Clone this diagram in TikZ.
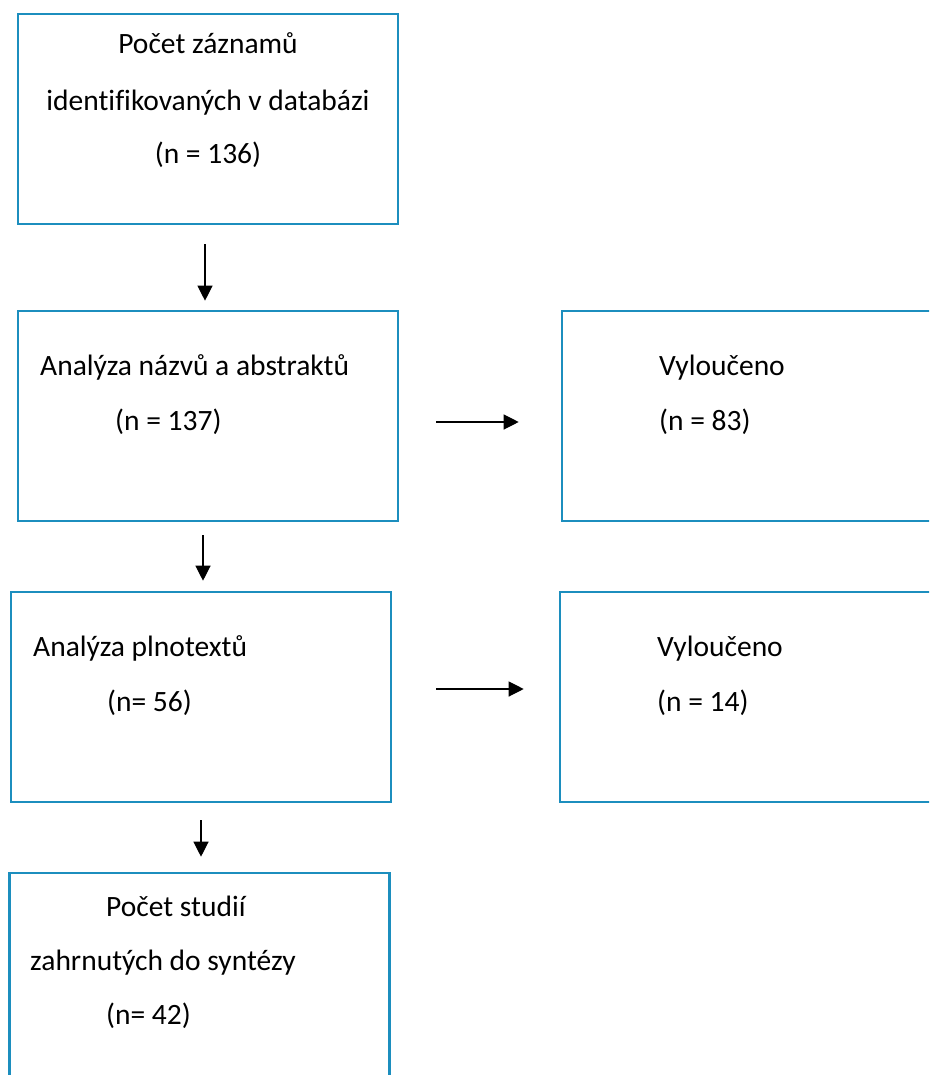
\documentclass[tikz,border=0pt]{standalone}
\usepackage{fontspec}
\setmainfont[Ligatures=NoCommon]{Carlito}
\usepackage{xcolor}
\usetikzlibrary{arrows.meta, positioning}
\definecolor{boxblue}{RGB}{28,142,190}

\begin{document}
\begin{tikzpicture}[
    x=1pt, y=-1pt,
    box/.style={rectangle, draw=boxblue, line width=2.6pt, minimum width=380pt,
                minimum height=210pt, inner sep=0pt},
    txt/.style={anchor=base west, inner sep=0pt, font=\fontsize{29.5}{34}\selectfont},
    ctxt/.style={anchor=base, inner sep=0pt, font=\fontsize{29.5}{34}\selectfont},
    flow/.style={-{Triangle[length=15pt, width=15pt]}, line width=1.2pt}
  ]
    \clip (0,0) rectangle (929,1075);
    \fill[white] (0,0) rectangle (929,1075);

    % boxes
    \node[box] (rec)  at (208,119)  {};
    \node[box] (scr)  at (208,416)  {};
    \node[box] (exa)  at (752,416)  {};
    \node[box] (full) at (201,697)  {};
    \node[box] (exb)  at (750,697)  {};
    \node[box] (inc)  at (199.5,978) {};

    % texts
    \node[ctxt] (rec1) at (208,54)  {Počet záznamů};
    \node[ctxt] (rec2) at (208,111) {identifikovaných v databázi};
    \node[ctxt] (rec3) at (208,164) {(n = 136)};
    \node[txt] (scr1) at (40,375)  {Analýza názvů a abstraktů};
    \node[txt] (scr2) at (115,430) {(n = 137)};
    \node[txt] (exa1) at (659,375) {Vyloučeno};
    \node[txt] (exa2) at (659,430) {(n = 83)};
    \node[txt] (full1) at (33,656)  {Analýza plnotextů};
    \node[txt] (full2) at (107,711) {(n= 56)};
    \node[txt] (exb1) at (657,656) {Vyloučeno};
    \node[txt] (exb2) at (657,711) {(n = 14)};
    \node[txt] (inc1) at (106,916)  {Počet studií};
    \node[txt] (inc2) at (30,970)   {zahrnutých do syntézy};
    \node[txt] (inc3) at (106,1024) {(n= 42)};

    % arrows
    \draw[flow, shorten <=19pt, shorten >=9pt] (rec.south) ++(-3,0) coordinate (r0) (r0) -- (r0 |- scr.north);
    \draw[flow, shorten <=13pt, shorten >=10pt] (scr.south) ++(-5,0) coordinate (s0) (s0) -- (s0 |- full.north);
    \draw[flow, shorten <=17pt, shorten >=15pt] (full.south) ++(0,0) coordinate (f0) (f0) -- (f0 |- inc.north);
    \draw[flow, shorten <=37pt, shorten >=42pt] (scr.east) ++(0,6) coordinate (s1) (s1) -- (s1 -| exa.west);
    \draw[flow, shorten <=44pt, shorten >=35pt] (full.east) ++(0,-8) coordinate (f1) (f1) -- (f1 -| exb.west);
  \end{tikzpicture}
\end{document}
